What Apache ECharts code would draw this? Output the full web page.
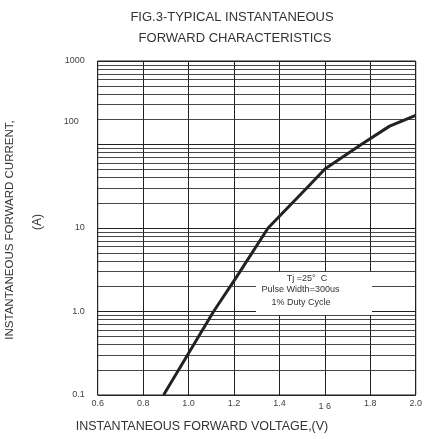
<!DOCTYPE html>
<html><head><meta charset="utf-8">
<script src="https://cdn.jsdelivr.net/npm/echarts@6/dist/echarts.min.js"></script>
<style>html,body{margin:0;padding:0;background:#fff}#c{width:425px;height:439px}</style>
</head><body><div id="c"></div>
<script>
// Forward voltage (V) vs instantaneous forward current (A)
const voltage = [0.89, 1.11, 1.21, 1.35, 1.53, 1.60, 1.76, 1.885, 2.0];
const current = [0.1, 1.0, 2.56, 10, 32, 51, 100, 166, 223];
const xTickLabels = ['0.6', '0.8', '1.0', '1.2', '1.4', '1 6', '1.8', '2.0'];
const yTickValues = [0.1, 1, 10, 100, 1000];
const yTickLabels = ['0.1', '1.0', '10', '100', '1000'];
const minorGridValues = [
  0.2, 0.3, 0.4, 0.5, 0.6, 0.7, 0.8, 0.9,
  2, 3, 4, 5, 6, 7, 8, 9,
  20, 30, 40, 50, 60, 70, 80, 90,
  200, 300, 400, 500, 600, 700, 800, 900
];
const noteLines = ['Tj =25°  C', 'Pulse Width=300us', '1% Duty Cycle'];

const chart = echarts.init(document.getElementById('c'));
const FONT = 'Liberation Sans, Arial, sans-serif';

chart.setOption({
  animation: false,
  backgroundColor: '#fff',
  textStyle: { fontFamily: FONT },
  title: [
    { text: 'FIG.3-TYPICAL INSTANTANEOUS', left: 227, top: 6, textAlign: 'center',
      textStyle: { fontSize: 13, fontWeight: 'normal', color: '#333', fontFamily: FONT } },
    { text: 'FORWARD CHARACTERISTICS', left: 230, top: 27, textAlign: 'center',
      textStyle: { fontSize: 13, fontWeight: 'normal', color: '#333', fontFamily: FONT } }
  ],
  grid: { left: 97.7, right: 5, top: 61, bottom: 44, show: true, borderColor: '#222', borderWidth: 1 },
  xAxis: {
    type: 'value', min: 0.6, max: 2.0, interval: 0.2,
    axisLine: { show: false }, axisTick: { show: false },
    splitLine: { show: true, lineStyle: { color: '#222', width: 1 } },
    axisLabel: {
      fontSize: 9, color: '#444', margin: 4, fontFamily: FONT,
      formatter: v => {
        const i = Math.round((v - 0.6) / 0.2);
        const s = xTickLabels[i] || '';
        return s === '1 6' ? '{low|' + s + '}' : s;
      },
      rich: { low: { fontSize: 9, color: '#444', padding: [3, 0, 0, 0], fontFamily: FONT } }
    }
  },
  yAxis: {
    type: 'log', logBase: 10, min: 0.1, max: 1000,
    axisLine: { show: false }, axisTick: { show: false },
    splitLine: { show: true, lineStyle: { color: '#222', width: 1 } },
    axisLabel: {
      fontSize: 9, color: '#444', margin: 13, fontFamily: FONT,
      formatter: v => {
        const i = yTickValues.findIndex(t => Math.abs(Math.log10(t) - Math.log10(v)) < 1e-6);
        if (i < 0) return '';
        const s = yTickLabels[i];
        return s === '100' ? '{up|' + s + '}' : s;
      },
      rich: { up: { fontSize: 9, color: '#444', padding: [0, 6, 46, 0], fontFamily: FONT } }
    }
  },
  series: [{
    type: 'line',
    data: voltage.map((v, i) => [v, current[i]]),
    showSymbol: false,
    symbol: 'none',
    z: 10,
    lineStyle: { color: '#222', width: 3 },
    markLine: {
      silent: true, symbol: 'none', animation: false,
      label: { show: false },
      lineStyle: { color: '#333', width: 0.9, type: 'solid' },
      data: minorGridValues.map(v => ({ yAxis: v }))
    }
  }],
  graphic: [
    { type: 'rect', z: 100, shape: { x: 256, y: 272, width: 116, height: 43 }, style: { fill: '#fff' } },
    { type: 'text', z: 101, x: 307, y: 279, style: { text: noteLines[0], fontSize: 9, fill: '#333', align: 'center', verticalAlign: 'middle', fontFamily: FONT } },
    { type: 'text', z: 101, x: 300.5, y: 289.5, style: { text: noteLines[1], fontSize: 9, fill: '#333', align: 'center', verticalAlign: 'middle', fontFamily: FONT } },
    { type: 'text', z: 101, x: 301, y: 303, style: { text: noteLines[2], fontSize: 9, fill: '#333', align: 'center', verticalAlign: 'middle', fontFamily: FONT } },
    { type: 'text', z: 101, x: 202, y: 427, style: { text: 'INSTANTANEOUS FORWARD VOLTAGE,(V)', fontSize: 12.5, fill: '#333', align: 'center', verticalAlign: 'middle', fontFamily: FONT } },
    { type: 'text', z: 101, x: 10, y: 230, rotation: Math.PI / 2, style: { text: 'INSTANTANEOUS FORWARD CURRENT,', fontSize: 11.5, fill: '#333', align: 'center', verticalAlign: 'middle', fontFamily: FONT } },
    { type: 'text', z: 101, x: 38, y: 222, rotation: Math.PI / 2, style: { text: '(A)', fontSize: 12, fill: '#333', align: 'center', verticalAlign: 'middle', fontFamily: FONT } }
  ]
});
</script>
</body></html>
